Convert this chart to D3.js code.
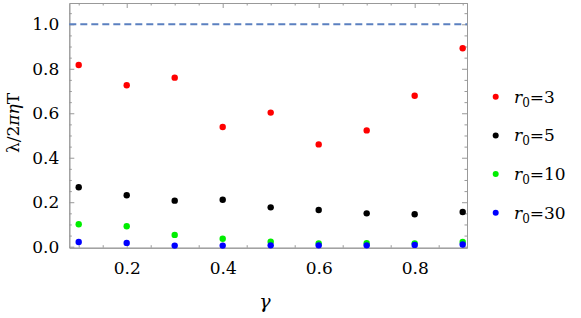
<!DOCTYPE html>
<html>
<head>
<meta charset="utf-8">
<script src="https://cdn.jsdelivr.net/npm/d3@7"></script>
<style>
  body { margin: 0; background: #fff; }
</style>
</head>
<body>
<div id="chart"></div>
<script>
// DATA
const gammas = [0.1, 0.2, 0.3, 0.4, 0.5, 0.6, 0.7, 0.8, 0.9];
const r3  = [0.817, 0.726, 0.760, 0.538, 0.603, 0.460, 0.523, 0.679, 0.892];
const r5  = [0.267, 0.231, 0.207, 0.211, 0.177, 0.165, 0.150, 0.146, 0.156];
const r10 = [0.101, 0.092, 0.053, 0.036, 0.022, 0.015, 0.016, 0.015, 0.021];
const r30 = [0.021, 0.017, 0.005, 0.005, 0.006, 0.006, 0.006, 0.008, 0.010];
const seriesNames = ["3", "5", "10", "30"];
const seriesColors = ["#ff0000", "#000000", "#00ee00", "#0000ff"];
const xTicks = [0.2, 0.4, 0.6, 0.8];
const yTicks = [0.0, 0.2, 0.4, 0.6, 0.8, 1.0];
const refLine = 1.0;

// SETUP
const W = 581, H = 318;
const FONT = "DejaVu Serif";
const svg = d3.select("#chart").append("svg")
    .attr("width", W).attr("height", H)
    .attr("font-family", FONT);

const x = d3.scaleLinear().domain([0.0804, 0.909]).range([69.3, 467]);
const y = d3.scaleLinear().domain([-0.0045, 1.0957]).range([247.7, 3]);

const frameColor = "#999";
const minorX = d3.range(0.1, 0.91, 0.05).map(v => +v.toFixed(2)).filter(v => !xTicks.includes(v));
const minorY = d3.range(0, 1.1, 0.05).map(v => +v.toFixed(2)).filter(v => !yTicks.includes(v));

function styleAxis(g) {
  g.attr("font-family", FONT).attr("font-size", 17);
  g.select(".domain").attr("stroke", frameColor);
  g.selectAll(".tick line").attr("stroke", frameColor);
  g.selectAll("text").attr("font-family", FONT).attr("font-size", 17).attr("fill", "#000");
}

// AXES (frame with inward ticks)
svg.append("g").attr("transform", `translate(0,${y.range()[0]})`)
  .call(d3.axisBottom(x).tickValues(xTicks).tickSizeInner(-5).tickSizeOuter(0).tickPadding(14).tickFormat(d3.format(".1f")))
  .call(styleAxis);
svg.append("g").attr("transform", `translate(0,${y.range()[0]})`)
  .call(d3.axisBottom(x).tickValues(minorX).tickSizeInner(-2.5).tickSizeOuter(0).tickFormat(""))
  .call(styleAxis);

svg.append("g").attr("transform", `translate(0,${y.range()[1]})`)
  .call(d3.axisTop(x).tickValues(xTicks).tickSizeInner(-5).tickSizeOuter(0).tickFormat(""))
  .call(styleAxis);
svg.append("g").attr("transform", `translate(0,${y.range()[1]})`)
  .call(d3.axisTop(x).tickValues(minorX).tickSizeInner(-2.5).tickSizeOuter(0).tickFormat(""))
  .call(styleAxis);

svg.append("g").attr("transform", `translate(${x.range()[0]},0)`)
  .call(d3.axisLeft(y).tickValues(yTicks).tickSizeInner(-5).tickSizeOuter(0).tickPadding(10).tickFormat(d3.format(".1f")))
  .call(styleAxis);
svg.append("g").attr("transform", `translate(${x.range()[0]},0)`)
  .call(d3.axisLeft(y).tickValues(minorY).tickSizeInner(-2.5).tickSizeOuter(0).tickFormat(""))
  .call(styleAxis);

svg.append("g").attr("transform", `translate(${x.range()[1]},0)`)
  .call(d3.axisRight(y).tickValues(yTicks).tickSizeInner(-5).tickSizeOuter(0).tickFormat(""))
  .call(styleAxis);
svg.append("g").attr("transform", `translate(${x.range()[1]},0)`)
  .call(d3.axisRight(y).tickValues(minorY).tickSizeInner(-2.5).tickSizeOuter(0).tickFormat(""))
  .call(styleAxis);

// REFERENCE LINE
svg.append("line")
  .attr("x1", x.range()[0]).attr("x2", x.range()[1])
  .attr("y1", y(refLine)).attr("y2", y(refLine))
  .attr("stroke", "#5b80c0").attr("stroke-width", 2)
  .attr("stroke-dasharray", "7,4");

// POINTS
const allSeries = [r3, r5, r10, r30];
allSeries.forEach((vals, i) => {
  svg.append("g").selectAll("circle")
    .data(vals)
    .join("circle")
      .attr("cx", (d, j) => x(gammas[j]))
      .attr("cy", d => y(d))
      .attr("r", 3.2)
      .attr("fill", seriesColors[i]);
});

// LEGEND
const legend = svg.append("g");
seriesNames.forEach((name, i) => {
  const ly = 96.7 + i * 38.7;
  legend.append("circle")
    .attr("cx", 495.7).attr("cy", ly).attr("r", 3)
    .attr("fill", seriesColors[i]);
  const t = legend.append("text")
    .attr("x", 514).attr("y", ly + 6)
    .attr("font-family", FONT)
    .attr("font-size", 17);
  t.append("tspan").attr("font-style", "italic").text("r");
  t.append("tspan").attr("font-size", 12).attr("dy", 4).text("0");
  t.append("tspan").attr("dy", -4).text("=" + name);
});

// AXIS LABELS
const yl = svg.append("text")
  .attr("transform", "translate(19,123) rotate(-90)")
  .attr("text-anchor", "middle")
  .attr("font-family", FONT)
  .attr("font-size", 17);
yl.append("tspan").text("λ/2");
yl.append("tspan").attr("font-style", "italic").text("πη");
yl.append("tspan").text("T");

svg.append("text")
  .attr("x", 265).attr("y", 308)
  .attr("text-anchor", "middle")
  .attr("font-family", FONT)
  .attr("font-size", 19)
  .attr("font-style", "italic")
  .text("γ");
</script>
</body>
</html>
